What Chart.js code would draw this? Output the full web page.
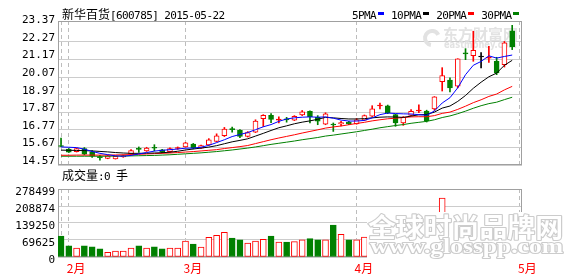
<!DOCTYPE html>
<html>
<head>
<meta charset="utf-8">
<title>新华百货 K线</title>
<script src="https://cdn.jsdelivr.net/npm/chart.js@4.4.1/dist/chart.umd.min.js"></script>
<style>
  html, body { margin: 0; padding: 0; background: #fff; }
  #wrap { position: relative; width: 578px; height: 276px; overflow: hidden; }
  canvas { position: absolute; left: 0; }
  #kline { top: 0; }
  #vol { top: 170px; }
  .txt { position: absolute; white-space: nowrap; font-size: 12px; line-height: 12px; color: #000;
         font-family: "Noto Sans CJK SC", sans-serif; }
  .asc { font-family: "DejaVu Sans Mono", monospace; font-size: 11px; letter-spacing: -0.6px; }
  .mark { display: inline-block; width: 6px; height: 3px; margin: 0 7px 4px 2px; vertical-align: baseline; }
</style>
</head>
<body>
<div id="wrap">
  <canvas id="kline" width="578" height="180"></canvas>
  <canvas id="vol" width="578" height="106"></canvas>
  <div id="title" class="txt" style="left:62px;top:8px"></div>
  <div id="legend" class="txt" style="left:352px;top:8px"></div>
  <div id="volTitle" class="txt" style="left:62px;top:169px"></div>
</div>
<script>
const stockName = "新华百货";
const stockCode = "600785";
const quoteDate = "2015-05-22";

// trading days 2015-01-30 .. 2015-04-30, one entry per day
const open = [15.75, 15.56, 15.40, 15.60, 15.40, 15.06, 14.98, 14.95, 15.08, 15.26,
              15.57, 15.45, 15.65, 15.52, 15.40, 15.60, 15.70, 15.88, 15.62, 15.82,
              16.05, 16.40, 16.80, 16.74, 16.36, 16.62, 17.47, 17.68, 17.38, 17.42,
              17.38, 17.70, 17.93, 17.55, 17.12, 17.09, 17.14, 17.26, 17.14, 17.38,
              17.62, 18.26, 18.28, 17.72, 17.20, 17.68, 17.95, 17.95, 18.08, 19.79,
              19.88, 19.50, 21.56, 21.41, 21.33, 21.25, 21.06, 20.84, 22.96];
const high = [16.25, 15.60, 15.63, 15.66, 15.48, 15.17, 15.18, 15.13, 15.20, 15.53,
              15.70, 15.68, 15.84, 15.55, 15.65, 15.70, 15.99, 15.92, 15.82, 16.22,
              16.52, 16.92, 16.95, 16.78, 16.66, 17.40, 17.72, 17.78, 17.58, 17.55,
              17.66, 17.98, 17.96, 17.66, 17.84, 17.20, 17.30, 17.30, 17.48, 17.70,
              18.28, 18.45, 18.32, 17.75, 17.60, 18.03, 18.33, 18.00, 18.85, 20.66,
              20.02, 21.22, 21.85, 22.94, 21.60, 22.00, 21.31, 22.30, 23.31];
const low = [15.72, 15.35, 15.38, 15.20, 15.05, 14.88, 14.96, 14.94, 15.05, 15.24,
             15.36, 15.42, 15.45, 15.33, 15.38, 15.55, 15.68, 15.58, 15.60, 15.80,
             16.02, 16.35, 16.62, 16.28, 16.32, 16.60, 16.98, 17.22, 17.20, 17.25,
             17.35, 17.66, 17.20, 17.09, 17.09, 16.67, 17.02, 17.10, 17.12, 17.35,
             17.60, 18.08, 17.78, 16.99, 17.05, 17.65, 17.85, 17.26, 18.00, 19.20,
             19.14, 19.40, 21.16, 21.06, 20.64, 20.99, 20.22, 20.70, 21.79];
const close = [15.73, 15.38, 15.59, 15.24, 15.12, 15.03, 15.15, 15.11, 15.16, 15.47,
               15.55, 15.63, 15.62, 15.38, 15.60, 15.65, 15.95, 15.62, 15.78, 16.15,
               16.40, 16.82, 16.78, 16.36, 16.60, 17.32, 17.68, 17.42, 17.43, 17.39,
               17.62, 17.89, 17.60, 17.32, 17.77, 17.07, 17.22, 17.14, 17.40, 17.66,
               18.08, 18.30, 17.83, 17.20, 17.55, 17.93, 18.00, 17.35, 18.83, 20.16,
               19.39, 21.22, 21.52, 21.75, 21.33, 21.28, 20.33, 22.21, 21.96];
const volume = [86000, 46000, 37000, 46000, 42000, 33000, 19000, 24500, 24500, 37000,
                46000, 37000, 42000, 33000, 37000, 37000, 65000, 53000, 41000, 81000,
                89000, 101000, 78000, 70000, 57000, 65000, 72000, 86000, 61000, 61000,
                63000, 70000, 75000, 70000, 70000, 131000, 93000, 70000, 70000, 82000,
                118000, 96000, 104000, 121000, 88000, 95000, 102000, 110000, 150000, 241000,
                165000, 170000, 140000, 175000, 150000, 135000, 128000, 160000, 150000];

const ma5 = [15.70, 15.68, 15.66, 15.56, 15.42, 15.30, 15.22, 15.14, 15.12, 15.17,
             15.26, 15.35, 15.44, 15.49, 15.53, 15.57, 15.62, 15.63, 15.68, 15.80,
             15.97, 16.15, 16.35, 16.48, 16.60, 16.78, 16.96, 17.10, 17.30, 17.45,
             17.52, 17.56, 17.58, 17.56, 17.58, 17.50, 17.38, 17.32, 17.32, 17.36,
             17.52, 17.72, 17.82, 17.79, 17.77, 17.76, 17.72, 17.68, 17.95, 18.45,
             18.78, 19.40, 20.22, 20.81, 21.05, 21.40, 21.26, 21.36, 21.45];
const ma10 = [15.50, 15.49, 15.48, 15.47, 15.45, 15.42, 15.39, 15.35, 15.32, 15.30,
              15.30, 15.31, 15.32, 15.34, 15.37, 15.43, 15.51, 15.57, 15.63, 15.69,
              15.78, 15.90, 16.02, 16.11, 16.21, 16.38, 16.55, 16.73, 16.90, 17.02,
              17.15, 17.25, 17.33, 17.43, 17.55, 17.52, 17.48, 17.45, 17.45, 17.47,
              17.52, 17.56, 17.58, 17.57, 17.55, 17.63, 17.71, 17.73, 17.88, 18.13,
              18.26, 18.55, 18.92, 19.37, 19.75, 20.09, 20.32, 20.81, 21.12];
const ma20 = [15.18, 15.18, 15.19, 15.19, 15.19, 15.19, 15.19, 15.20, 15.21, 15.22,
              15.24, 15.26, 15.28, 15.30, 15.32, 15.35, 15.38, 15.41, 15.45, 15.49,
              15.53, 15.60, 15.66, 15.72, 15.79, 15.91, 16.03, 16.15, 16.26, 16.36,
              16.46, 16.57, 16.67, 16.77, 16.88, 16.95, 17.01, 17.09, 17.17, 17.24,
              17.33, 17.40, 17.46, 17.50, 17.54, 17.58, 17.59, 17.59, 17.66, 17.80,
              17.88, 18.05, 18.25, 18.47, 18.65, 18.86, 19.01, 19.27, 19.49];
const ma30 = [15.12, 15.12, 15.12, 15.12, 15.12, 15.12, 15.12, 15.13, 15.13, 15.14,
              15.15, 15.16, 15.17, 15.19, 15.21, 15.24, 15.27, 15.30, 15.33, 15.37,
              15.41, 15.46, 15.51, 15.57, 15.63, 15.70, 15.78, 15.86, 15.93, 16.00,
              16.07, 16.15, 16.22, 16.29, 16.38, 16.44, 16.51, 16.58, 16.65, 16.73,
              16.81, 16.90, 16.97, 17.04, 17.10, 17.18, 17.24, 17.30, 17.40, 17.54,
              17.64, 17.78, 17.94, 18.12, 18.28, 18.41, 18.50, 18.66, 18.81];

const maNames = ["5PMA", "10PMA", "20PMA", "30PMA"];
const maColors = ["#0000ff", "#000000", "#ff0000", "#008000"];

const priceTicks = [14.57, 15.67, 16.77, 17.87, 18.97, 20.07, 21.17, 22.27, 23.37];
const volTicks = [0, 69625, 139250, 208874, 278499];
// first trading day of each month (index), last one is the slot after the data
const monthTicks = [0, 1, 16, 38, 59];
const monthLabels = ["", "2月", "3月", "4月", "5月"];

const UP = "#ff0000", DOWN = "#008000", FLAT = "#000000";
const candleColor = close.map((c, i) => c > open[i] ? UP : (c < open[i] ? DOWN : FLAT));
// up days are hollow, unless the body is only a tick
const bodyFill = close.map((c, i) => (c - open[i] > 0.06) ? "#ffffff" : candleColor[i]);
const volFill = close.map((c, i) => c > open[i] ? "#ffffff" : candleColor[i]);

// header texts
document.getElementById("title").innerHTML =
  stockName + '<span class="asc">[' + stockCode + '] ' + quoteDate + '</span>';
document.getElementById("legend").innerHTML = maNames.map((n, i) =>
  '<span class="asc">' + n + '</span><span class="mark" style="background:' + maColors[i] + '"></span>').join("");
document.getElementById("volTitle").innerHTML = '成交量<span class="asc">:0 </span>手';

const tickFont = { family: "DejaVu Sans Mono", size: 11 };

function xAxis(showLabels) {
  return {
    type: "linear",
    min: -0.39,
    max: 59.26,
    offset: false,
    afterBuildTicks: s => { s.ticks = monthTicks.map(v => ({ value: v })); },
    afterFit: s => { s.height = showLabels ? 19 : 0; },
    grid: { color: "#bdbdbd", drawTicks: false, offset: false },
    border: { display: false, dash: [4, 3] },
    ticks: {
      display: showLabels,
      autoSkip: false,
      maxRotation: 0,
      align: "start",
      labelOffset: -2,
      padding: 4,
      color: "#ff0000",
      font: { family: "Noto Sans CJK SC", size: 12 },
      callback: (v, i) => monthLabels[i]
    }
  };
}

// gray frame round the plot area
const frame = {
  id: "frame",
  beforeDatasetsDraw(chart) {
    const { ctx, chartArea: a } = chart;
    ctx.save();
    ctx.strokeStyle = "#a0a0a0";
    ctx.lineWidth = 1;
    ctx.strokeRect(Math.round(a.left) + 0.5, Math.round(a.top) + 0.5,
                   Math.round(a.right - a.left) - 1, Math.round(a.bottom - a.top) - 1);
    ctx.restore();
  }
};

// faint site logo behind the candles
const eastmoneyMark = {
  id: "eastmoneyMark",
  beforeDatasetsDraw(chart) {
    const ctx = chart.ctx;
    ctx.save();
    ctx.strokeStyle = "#e2e2e2";
    ctx.lineWidth = 4;
    ctx.beginPath();
    ctx.arc(432, 38, 7, Math.PI * 0.55, Math.PI * 1.85);
    ctx.stroke();
    ctx.fillStyle = "#e2e2e2";
    ctx.textBaseline = "middle";
    ctx.font = 'bold 15px "Noto Sans CJK SC"';
    ctx.fillText("东方财富网", 443, 34);
    ctx.font = 'bold 10px "DejaVu Sans"';
    const w = ctx.measureText("eastmoney.com").width;
    ctx.translate(444, 45);
    ctx.scale(73 / w, 1);
    ctx.fillText("eastmoney.com", 0, 0);
    ctx.restore();
  }
};

// outlined watermark lying over the volume bars
function outlined(ctx, text, font, x, y, width) {
  ctx.save();
  ctx.font = font;
  const w = ctx.measureText(text).width;
  ctx.translate(x, y);
  ctx.scale(width / w, 1);
  ctx.lineJoin = "round";
  ctx.lineWidth = 2.2;
  ctx.strokeStyle = "#cccccc";
  ctx.strokeText(text, 0, 0);
  ctx.fillStyle = "#ffffff";
  ctx.fillText(text, 0, 0);
  ctx.restore();
}
const glossMark = {
  id: "glossMark",
  afterDraw(chart) {
    const ctx = chart.ctx;
    ctx.save();
    ctx.fillStyle = "#ffffff";
    ctx.fillRect(367, 42, 199, 46);
    ctx.textBaseline = "alphabetic";
    outlined(ctx, "全球时尚品牌网", 'bold 26px "Noto Sans CJK SC"', 368, 67, 195);
    outlined(ctx, "www.glosspp.com", 'bold 21px "Liberation Serif"', 370, 83, 193);
    ctx.restore();
  }
};

const idx = close.map((_, i) => i);

new Chart(document.getElementById("kline"), {
  type: "bar",
  data: {
    datasets: [
      ...[ma5, ma10, ma20, ma30].map((s, k) => ({
        type: "line",
        label: maNames[k],
        data: s.map((v, i) => ({ x: i, y: v })),
        borderColor: maColors[k],
        borderWidth: 1,
        pointRadius: 0,
        tension: 0,
        fill: false,
        order: 0
      })),
      {
        label: "body",
        data: idx.map(i => ({ x: i, y: [open[i], close[i]] })),
        backgroundColor: bodyFill,
        borderColor: candleColor,
        borderWidth: 1,
        borderSkipped: false,
        barThickness: 5,
        minBarLength: 1,
        grouped: false,
        order: 1
      },
      {
        label: "wick",
        data: idx.map(i => ({ x: i, y: [low[i], high[i]] })),
        backgroundColor: candleColor,
        borderWidth: 0,
        barThickness: 1,
        grouped: false,
        order: 2
      }
    ]
  },
  options: {
    responsive: false,
    devicePixelRatio: 1,
    animation: false,
    events: [],
    layout: { padding: { left: 0, right: 56, top: 21, bottom: 15 } },
    scales: {
      x: xAxis(false),
      y: {
        min: 14.57,
        max: 23.58,
        afterBuildTicks: s => { s.ticks = priceTicks.map(v => ({ value: v })); },
        afterFit: s => { s.width = 58; },
        grid: {
          color: c => (c.tick && c.tick.value === priceTicks[priceTicks.length - 1]) ? "rgba(0,0,0,0)" : "#cccccc",
          drawTicks: false
        },
        border: { display: false },
        ticks: { autoSkip: false, padding: 3, labelOffset: -4, color: "#000", font: tickFont,
                 callback: v => v.toFixed(2) }
      }
    },
    plugins: { legend: { display: false }, tooltip: { enabled: false } }
  },
  plugins: [eastmoneyMark, frame]
});

new Chart(document.getElementById("vol"), {
  type: "bar",
  data: {
    datasets: [{
      label: "成交量",
      data: idx.map(i => ({ x: i, y: volume[i] })),
      backgroundColor: volFill,
      borderColor: candleColor,
      borderWidth: 1,
      borderSkipped: false,
      barThickness: 6,
      grouped: false
    }]
  },
  options: {
    responsive: false,
    devicePixelRatio: 1,
    animation: false,
    events: [],
    layout: { padding: { left: 0, right: 56, top: 19, bottom: 0 } },
    scales: {
      x: xAxis(true),
      y: {
        min: 0,
        max: 278499,
        afterBuildTicks: s => { s.ticks = volTicks.map(v => ({ value: v })); },
        afterFit: s => { s.width = 58; },
        grid: { color: "#cccccc", drawTicks: false },
        border: { display: false },
        ticks: { autoSkip: false, padding: 3, labelOffset: 3, color: "#000", font: tickFont,
                 callback: v => String(v) }
      }
    },
    plugins: { legend: { display: false }, tooltip: { enabled: false } }
  },
  plugins: [frame, glossMark]
});
</script>
</body>
</html>
